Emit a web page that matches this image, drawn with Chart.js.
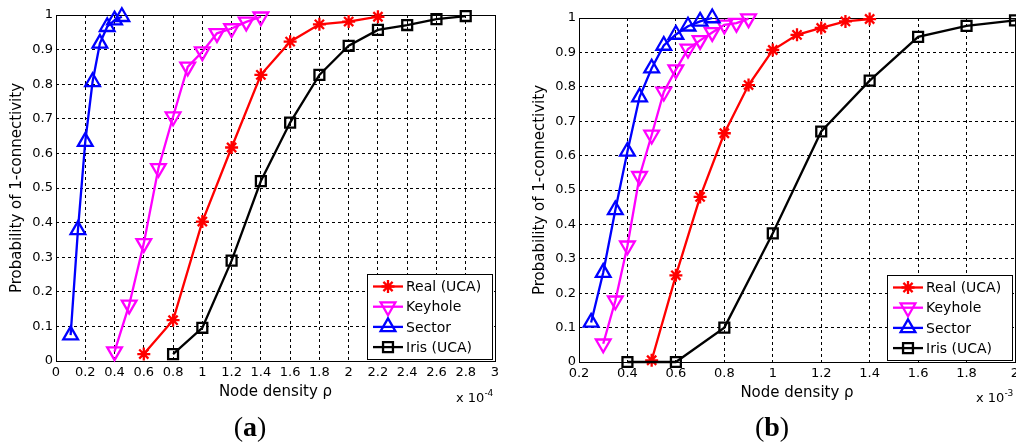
<!DOCTYPE html>
<html>
<head>
<meta charset="utf-8">
<script src="https://cdn.jsdelivr.net/npm/chart.js@4.4.1/dist/chart.umd.min.js"></script>
<style>
  html, body { margin: 0; padding: 0; background: #fff; overflow: hidden; }
  #wrap { position: relative; width: 1016px; height: 443px; overflow: hidden; }
  canvas { position: absolute; top: 0; }
  #ca { left: 0; }
  #cb { left: 508px; }
  .exp { position: absolute; top: 390px; font: 13px "DejaVu Sans", sans-serif; line-height: 16px; white-space: nowrap; }
  .exp sup { font-size: 9px; vertical-align: 6px; line-height: 0; }
  .tag { position: absolute; top: 411px; width: 80px; text-align: center; font: 28px "Liberation Serif", serif; line-height: 32px; }
</style>
</head>
<body>
<div id="wrap">
  <canvas id="ca" width="508" height="443"></canvas>
  <canvas id="cb" width="520" height="443"></canvas>
  <div class="exp" style="left:456px">x 10<sup>-4</sup></div>
  <div class="exp" style="left:976px">x 10<sup>-3</sup></div>
  <div class="tag" style="left:210px">(<b>a</b>)</div>
  <div class="tag" style="left:732px">(<b>b</b>)</div>
</div>
<script>
// series order: Real (UCA), Keyhole, Sector, Iris (UCA)
var seriesNames = ['Real (UCA)', 'Keyhole', 'Sector', 'Iris (UCA)'];

// tick labels
var yTicks = [0, 0.1, 0.2, 0.3, 0.4, 0.5, 0.6, 0.7, 0.8, 0.9, 1];
var xTicksA = [0, 0.2, 0.4, 0.6, 0.8, 1, 1.2, 1.4, 1.6, 1.8, 2, 2.2, 2.4, 2.6, 2.8, 3];
var xTicksB = [0.2, 0.4, 0.6, 0.8, 1, 1.2, 1.4, 1.6, 1.8, 2];

// (a) node density in units of 1e-4
var realA_x = [0.6, 0.8, 1.0, 1.2, 1.4, 1.6, 1.8, 2.0, 2.2];
var realA_y = [0.02, 0.118, 0.403, 0.617, 0.827, 0.923, 0.973, 0.981, 0.995];
var keyA_x = [0.4, 0.5, 0.6, 0.7, 0.8, 0.9, 1.0, 1.1, 1.2, 1.3, 1.4];
var keyA_y = [0.027, 0.162, 0.34, 0.557, 0.706, 0.85, 0.894, 0.947, 0.961, 0.98, 0.995];
var secA_x = [0.1, 0.15, 0.2, 0.25, 0.3, 0.35, 0.4, 0.45];
var secA_y = [0.075, 0.379, 0.634, 0.807, 0.918, 0.966, 0.985, 0.995];
var irisA_x = [0.8, 1.0, 1.2, 1.4, 1.6, 1.8, 2.0, 2.2, 2.4, 2.6, 2.8];
var irisA_y = [0.02, 0.096, 0.29, 0.52, 0.689, 0.827, 0.911, 0.957, 0.971, 0.988, 0.997];

// (b) node density in units of 1e-3
var realB_x = [0.5, 0.6, 0.7, 0.8, 0.9, 1.0, 1.1, 1.2, 1.3, 1.4];
var realB_y = [0.005, 0.252, 0.48, 0.665, 0.805, 0.907, 0.951, 0.971, 0.99, 0.997];
var keyB_x = [0.3, 0.35, 0.4, 0.45, 0.5, 0.55, 0.6, 0.65, 0.7, 0.75, 0.8, 0.85, 0.9];
var keyB_y = [0.053, 0.178, 0.338, 0.54, 0.66, 0.785, 0.85, 0.91, 0.935, 0.958, 0.98, 0.985, 0.998];
var secB_x = [0.25, 0.3, 0.35, 0.4, 0.45, 0.5, 0.55, 0.6, 0.65, 0.7, 0.75];
var secB_y = [0.115, 0.26, 0.442, 0.612, 0.77, 0.854, 0.92, 0.952, 0.976, 0.99, 1.0];
var irisB_x = [0.4, 0.6, 0.8, 1.0, 1.2, 1.4, 1.6, 1.8, 2.0];
var irisB_y = [0.0, 0.0, 0.1, 0.374, 0.67, 0.818, 0.945, 0.977, 0.993];

var styles = [
    { color: '#ff0000', marker: 'star', rot: 0, r: 6.5 },
    { color: '#ff00ff', marker: 'triangle', rot: 180, r: 8.5 },
    { color: '#0000ff', marker: 'triangle', rot: 0, r: 8.5 },
    { color: '#000000', marker: 'rect', rot: 0, r: 7 }
];

Chart.defaults.font.family = '"DejaVu Sans", sans-serif';
Chart.defaults.color = '#000';

function makeSets(xs, ys) {
    return xs.map(function (xv, i) {
        var s = styles[i];
        return {
            label: seriesNames[i],
            data: xv.map(function (v, j) { return { x: v, y: ys[i][j] }; }),
            borderColor: s.color,
            backgroundColor: s.color,
            borderWidth: 2.3,
            pointStyle: s.marker,
            pointRotation: s.rot,
            pointRadius: s.r,
            pointBorderWidth: 2.3,
            pointBorderColor: s.color,
            pointBackgroundColor: 'rgba(0,0,0,0)',
            tension: 0,
            clip: false,
            order: 3 - i
        };
    });
}

// solid box round the plot area, like matlab "box on"
var frame = {
    id: 'frame',
    beforeDatasetsDraw: function (chart) {
        var a = chart.chartArea, ctx = chart.ctx;
        ctx.save();
        ctx.strokeStyle = '#000';
        ctx.lineWidth = 1;
        ctx.strokeRect(Math.round(a.left) + 0.5, Math.round(a.top) + 0.5,
            Math.round(a.right - a.left), Math.round(a.bottom - a.top));
        ctx.restore();
    }
};

// legend box inside the plot, bottom right
var boxLegend = {
    id: 'boxLegend',
    afterDatasetsDraw: function (chart) {
        var ctx = chart.ctx, a = chart.chartArea;
        var w = 125, h = 85, rowH = 20.2;
        var r = Math.round(a.right) - 3, b = Math.round(a.bottom) - 2;
        var l = r - w, t = b - h;
        ctx.save();
        ctx.fillStyle = '#fff';
        ctx.fillRect(l, t, w, h);
        ctx.strokeStyle = '#000';
        ctx.lineWidth = 1;
        ctx.strokeRect(l + 0.5, t + 0.5, w, h);
        ctx.font = '14px "DejaVu Sans", sans-serif';
        ctx.textBaseline = 'middle';
        chart.data.datasets.forEach(function (ds, i) {
            var y = t + 12.5 + i * rowH;
            ctx.strokeStyle = ds.borderColor;
            ctx.lineWidth = 2.3;
            ctx.beginPath();
            ctx.moveTo(l + 6, y);
            ctx.lineTo(l + 36, y);
            ctx.stroke();
            ctx.fillStyle = 'rgba(0,0,0,0)';
            Chart.helpers.drawPoint(ctx, {
                pointStyle: ds.pointStyle, rotation: ds.pointRotation,
                radius: ds.pointRadius, borderWidth: 2
            }, l + 21, y);
            ctx.fillStyle = '#000';
            ctx.fillText(ds.label, l + 39, y + 1);
        });
        ctx.restore();
    }
};

function makeOptions(xTicks, pad, yTitlePad) {
    return {
        responsive: false,
        animation: false,
        devicePixelRatio: 1,
        layout: { padding: pad },
        plugins: { legend: { display: false }, tooltip: { enabled: false } },
        scales: {
            x: {
                type: 'linear',
                min: xTicks[0],
                max: xTicks[xTicks.length - 1],
                afterBuildTicks: function (s) { s.ticks = xTicks.map(function (v) { return { value: v }; }); },
                afterFit: function (s) { s.height = 40; },
                ticks: { autoSkip: false, maxRotation: 0, padding: 4, font: { size: 13 },
                    callback: function (v) { return String(v); } },
                grid: { color: '#000', lineWidth: 1, drawTicks: false },
                border: { display: false, dash: [3, 3] },
                title: { display: true, text: 'Node density ρ', font: { size: 15 }, padding: { top: 0, bottom: 0 } }
            },
            y: {
                min: 0,
                max: 1,
                afterBuildTicks: function (s) { s.ticks = yTicks.map(function (v) { return { value: v }; }); },
                afterFit: function (s) { s.width = 56; },
                ticks: { padding: 3, font: { size: 13 }, callback: function (v) { return String(v); } },
                grid: { color: '#000', lineWidth: 1, drawTicks: false },
                border: { display: false, dash: [3, 3] },
                title: { display: true, text: 'Probability of 1-connectivity', font: { size: 15 },
                    padding: { top: yTitlePad, bottom: 0 } }
            }
        }
    };
}

new Chart(document.getElementById('ca'), {
    type: 'line',
    data: { datasets: makeSets([realA_x, keyA_x, secA_x, irisA_x], [realA_y, keyA_y, secA_y, irisA_y]) },
    options: makeOptions(xTicksA, { left: 0, right: 13, top: 15, bottom: 42 }, 8.5),
    plugins: [frame, boxLegend]
});

new Chart(document.getElementById('cb'), {
    type: 'line',
    data: { datasets: makeSets([realB_x, keyB_x, secB_x, irisB_x], [realB_y, keyB_y, secB_y, irisB_y]) },
    options: makeOptions(xTicksB, { left: 15, right: 13, top: 18, bottom: 41 }, 8),
    plugins: [frame, boxLegend]
});
</script>
</body>
</html>
